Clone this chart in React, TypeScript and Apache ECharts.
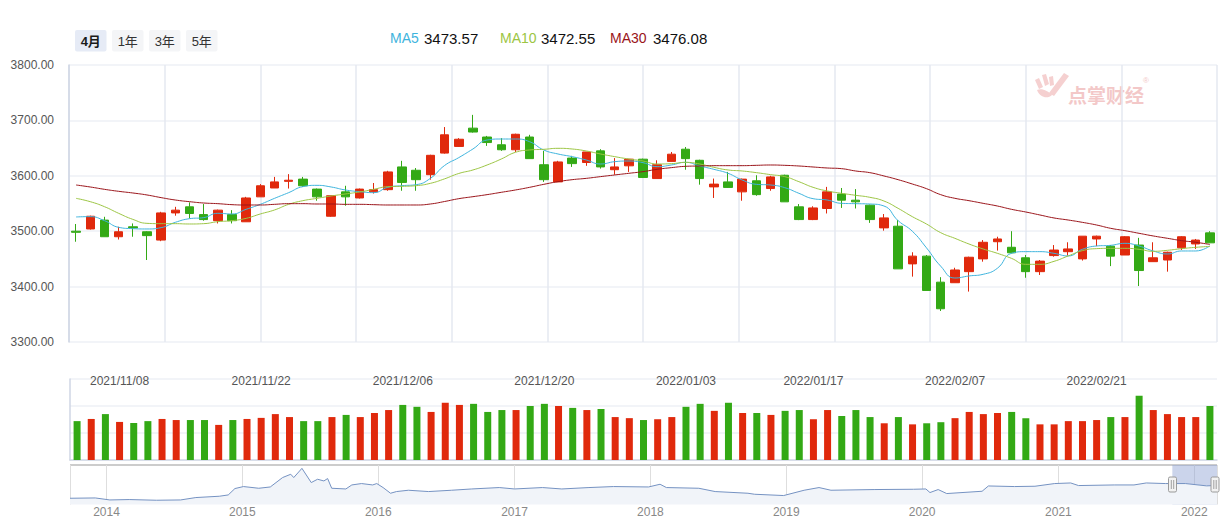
import React, { useEffect, useRef } from 'react';
import * as echarts from 'echarts';

// ---------- data ----------
const tradeDates = [
  '2021/11/03','2021/11/04','2021/11/05',
  '2021/11/08','2021/11/09','2021/11/10','2021/11/11','2021/11/12',
  '2021/11/15','2021/11/16','2021/11/17','2021/11/18','2021/11/19',
  '2021/11/22','2021/11/23','2021/11/24','2021/11/25','2021/11/26',
  '2021/11/29','2021/11/30','2021/12/01','2021/12/02','2021/12/03',
  '2021/12/06','2021/12/07','2021/12/08','2021/12/09','2021/12/10',
  '2021/12/13','2021/12/14','2021/12/15','2021/12/16','2021/12/17',
  '2021/12/20','2021/12/21','2021/12/22','2021/12/23','2021/12/24',
  '2021/12/27','2021/12/28','2021/12/29','2021/12/30','2021/12/31',
  '2022/01/04','2022/01/05','2022/01/06','2022/01/07',
  '2022/01/10','2022/01/11','2022/01/12','2022/01/13','2022/01/14',
  '2022/01/17','2022/01/18','2022/01/19','2022/01/20','2022/01/21',
  '2022/01/24','2022/01/25','2022/01/26','2022/01/27','2022/01/28',
  '2022/02/07','2022/02/08','2022/02/09','2022/02/10','2022/02/11',
  '2022/02/14','2022/02/15','2022/02/16','2022/02/17','2022/02/18',
  '2022/02/21','2022/02/22','2022/02/23','2022/02/24','2022/02/25',
  '2022/02/28','2022/03/01','2022/03/02','2022/03/03',
];

const openPrices = [
  3500,3504,3520,3490,3508,3499,3484,3533,3544,3530,
  3519,3530,3517,3562,3578,3590,3594,3576,3527,3571,
  3560,3571,3575,3616,3610,3602,3641,3653,3686,3670,
  3656,3647,3670,3620,3589,3632,3624,3645,3611,3618,
  3630,3595,3626,3648,3628,3580,3589,3571,3591,3577,
  3601,3544,3521,3541,3567,3556,3547,3506,3509,3441,
  3455,3408,3407,3427,3450,3481,3471,3452,3427,3456,
  3463,3450,3486,3473,3457,3475,3445,3448,3470,3477,3497,
];
const closePrices = [
  3498,3527,3490,3499,3506,3492,3533,3538,3532,3521,
  3538,3519,3560,3582,3589,3592,3582,3562,3564,3562,
  3576,3575,3607,3588,3593,3637,3674,3666,3679,3660,
  3647,3675,3631,3593,3625,3622,3643,3616,3616,3630,
  3597,3620,3639,3631,3595,3585,3579,3594,3566,3598,
  3553,3521,3542,3571,3556,3553,3521,3524,3432,3455,
  3393,3360,3430,3453,3480,3486,3461,3427,3446,3466,
  3468,3491,3491,3455,3490,3429,3452,3462,3490,3484,3479,
];
const lowPrices = [
  3481,3503,3490,3485,3490,3448,3482,3528,3523,3519,
  3514,3514,3517,3562,3578,3577,3580,3555,3526,3546,
  3559,3568,3573,3573,3573,3593,3640,3652,3678,3654,
  3645,3643,3631,3589,3589,3616,3618,3613,3602,3607,
  3596,3595,3626,3611,3584,3560,3578,3555,3564,3573,
  3553,3520,3520,3532,3542,3541,3515,3501,3432,3418,
  3393,3356,3407,3391,3445,3465,3460,3416,3421,3454,
  3456,3447,3473,3437,3457,3401,3445,3427,3466,3468,3479,
];
const highPrices = [
  3513,3528,3526,3508,3514,3500,3535,3544,3552,3549,
  3539,3538,3562,3585,3598,3603,3598,3577,3564,3582,
  3577,3587,3609,3627,3614,3638,3688,3668,3710,3672,
  3668,3676,3674,3645,3627,3636,3643,3648,3632,3630,
  3631,3628,3643,3652,3629,3595,3607,3595,3601,3600,
  3602,3549,3545,3580,3578,3576,3548,3531,3520,3462,
  3457,3417,3434,3454,3484,3490,3500,3457,3448,3475,
  3480,3491,3492,3475,3491,3488,3480,3463,3491,3486,3500,
];

const ma5Values = [
  3525.7,3526.3,3519.1,3507.0,3504.6,3504.0,3506.4,3516.0,3522.6,3524.5,
  3532.3,3531.1,3539.5,3548.5,3559.3,3569.6,3580.4,3582.8,3579.8,3574.4,
  3571.4,3569.6,3579.2,3582.2,3584.0,3595.4,3618.6,3632.8,3648.4,3664.6,
  3666.4,3666.4,3661.6,3646.6,3639.4,3634.6,3628.5,3621.3,3625.5,3626.7,
  3623.7,3616.5,3619.5,3624.3,3617.7,3611.7,3604.5,3592.4,3584.6,3583.4,
  3578.6,3568.4,3558.7,3556.3,3550.3,3549.7,3549.1,3545.5,3519.0,3500.0,
  3470.0,3437.0,3415.5,3419.2,3422.2,3433.0,3460.1,3463.1,3463.1,3460.1,
  3455.3,3467.3,3473.3,3474.5,3478.1,3473.3,3464.3,3458.9,3464.3,3464.3,3473.57,
];
const ma10Values = [
  3559.3,3553.3,3544.3,3532.3,3521.4,3514.2,3513.6,3513.6,3513.0,3513.6,
  3517.2,3519.0,3523.2,3531.1,3538.3,3548.5,3555.1,3559.3,3563.6,3567.2,
  3570.8,3575.6,3580.4,3581.0,3582.2,3586.4,3594.5,3604.2,3610.5,3619.5,
  3630.3,3642.4,3646.6,3647.8,3649.6,3648.4,3644.8,3639.4,3634.6,3630.3,
  3626.7,3621.3,3621.9,3624.3,3621.3,3615.3,3610.5,3608.7,3605.7,3602.1,
  3598.5,3589.4,3579.2,3572.6,3568.4,3564.8,3561.2,3554.5,3541.3,3526.3,
  3513.0,3497.4,3487.2,3476.9,3467.9,3460.1,3451.0,3440.2,3440.2,3445.6,
  3455.3,3464.9,3468.5,3469.1,3469.1,3467.3,3463.7,3465.5,3468.5,3470.9,3472.55,
];
const ma30Values = [
  3583.4,3579.8,3575.6,3572.0,3569.0,3565.4,3560.6,3556.3,3553.3,3550.9,
  3549.7,3547.9,3547.3,3547.3,3548.5,3549.7,3549.7,3549.1,3549.1,3548.5,
  3548.5,3547.9,3547.3,3547.3,3547.3,3549.1,3553.6,3558.7,3562.3,3566.0,
  3570.2,3574.4,3579.2,3584.6,3589.4,3593.0,3595.4,3598.5,3601.5,3604.5,
  3607.5,3611.7,3614.7,3617.1,3617.7,3618.3,3618.3,3618.3,3618.9,3619.5,
  3618.9,3617.7,3615.9,3614.1,3612.9,3608.7,3605.7,3599.7,3593.0,3585.2,
  3576.8,3566.0,3559.4,3555.1,3550.3,3545.5,3539.5,3534.7,3529.3,3523.9,
  3520.2,3516.0,3511.2,3505.2,3501.0,3496.2,3491.4,3487.2,3483.0,3480.0,3476.08,
];

const volumes = [
  144,152,170,141,137,144,152,148,148,148,
  130,148,152,156,170,159,144,144,159,167,
  159,174,185,204,197,178,212,204,208,178,
  185,185,200,208,200,193,185,189,159,155,
  148,151,159,197,208,182,212,174,174,167,
  182,185,151,185,163,185,159,136,159,132,
  136,140,155,178,170,174,178,155,132,132,
  144,144,148,159,159,238,185,170,159,159,200,
];

const volumeTickDates = ['2021/11/08','2021/11/22','2021/12/06','2021/12/20','2022/01/04','2022/01/17','2022/02/07','2022/02/21'];
const volumeTickLabels = ['2021/11/08','2021/11/22','2021/12/06','2021/12/20','2022/01/03','2022/01/17','2022/02/07','2022/02/21'];

const priceTicks = { min: 3300, max: 3800, step: 100 };
const volumeTicks = { min: 0, max: 300, step: 100 };

const maNames = ['MA5', 'MA10', 'MA30'];
const maLegendValues = ['3473.57', '3472.55', '3476.08'];
const rangeButtons = ['4月', '1年', '3年', '5年'];

const overviewDates = [
  '2013-09-25','2013-12-02','2014-01-10','2014-03-03','2014-05-15','2014-07-19','2014-08-29','2014-10-31',
  '2014-11-24','2014-12-12','2015-01-04','2015-02-14','2015-03-17','2015-04-19','2015-05-11','2015-05-19',
  '2015-06-10','2015-07-05','2015-07-22','2015-08-08','2015-08-18','2015-08-29','2015-10-06','2015-10-22',
  '2015-11-17','2015-12-17','2015-12-28','2016-01-14','2016-02-03','2016-02-19','2016-03-22','2016-05-15',
  '2016-07-16','2016-09-08','2016-11-21','2017-01-01','2017-03-17','2017-05-08','2017-07-20','2017-09-24',
  '2017-12-27','2018-01-27','2018-02-13','2018-05-11','2018-06-24','2018-09-20','2018-10-08','2018-12-25',
  '2019-02-18','2019-03-30','2019-05-01','2019-08-25','2019-12-09','2020-01-11','2020-01-22','2020-02-13',
  '2020-03-07','2020-06-10','2020-06-27','2020-09-05','2020-10-30','2020-12-22','2021-02-03','2021-02-24',
  '2021-05-31','2021-07-23','2021-08-25','2021-10-16','2021-12-08','2022-02-03','2022-03-03',
];
const overviewValues = [
  2217,2247,2049,2089,2020,2049,2286,2415,
  2543,3175,3372,3204,3332,4260,4586,4260,
  5170,3767,4092,3925,4161,3204,3135,3530,
  3668,3530,3668,3273,2711,2878,3007,2878,
  3007,3135,3273,3135,3273,3135,3273,3372,
  3332,3599,3273,3204,2878,2711,2612,2484,
  3007,3273,3007,3076,3105,3135,2780,3076,
  2681,2908,3431,3372,3402,3668,3727,3471,
  3530,3530,3727,3668,3668,3440,3480,
];
const overviewRange = { start: '2013-09-25', end: '2022-03-03' };
const zoomWindow = { start: '2021-11-03', end: '2022-03-03' };

// ---------- styles ----------
const FONT = '"Liberation Sans", Arial, "Noto Sans CJK SC", sans-serif';
const UP = '#e0290c';
const DOWN = '#33a915';
const MA_COLORS = ['#3fb4dd', '#9cc544', '#9a141a'];

const LOGO_D =
  'M1 8 L5 6 L9 15 L5 17 Z M8 3 L12 2 L15 12 L11 14 Z M15 5 L19 4 L20 13 L16 14 Z ' +
  'M30 1 L35 4 L20 24 L15 21 Z M3 18 C8 16 14 19 18 23 C14 27 6 26 3 18 Z';
let logoRegistered = false;
function ensureLogo() {
  if (logoRegistered) return;
  echarts.graphic.registerShape('dzLogo', echarts.graphic.extendPath(LOGO_D, {}));
  logoRegistered = true;
}

function buildOption() {
  const candleData = openPrices.map((o, i) => [o, closePrices[i], lowPrices[i], highPrices[i]]);
  const volumeData = volumes.map((v, i) => ({
    value: v,
    itemStyle: { color: closePrices[i] >= openPrices[i] ? UP : DOWN },
  }));
  const overviewData = overviewDates.map((d, i) => [d, overviewValues[i]]);

  const graphic: any[] = [];
  // range buttons
  rangeButtons.forEach((b, i) => {
    const x = 75 + i * 37;
    graphic.push({
      type: 'rect', x, y: 30, shape: { width: 31.5, height: 21.5, r: 2 },
      style: { fill: i === 0 ? '#e6ebf6' : '#f4f5f7' }, silent: true,
    });
    graphic.push({
      type: 'text', x: x + 15.75, y: 41,
      style: {
        text: b, fill: i === 0 ? '#1a1a1a' : '#333', align: 'center', verticalAlign: 'middle',
        font: (i === 0 ? 'bold ' : '') + '13px ' + FONT,
      }, silent: true,
    });
  });
  // MA legend
  const legendX = [[390, 424], [500, 541], [610, 653]];
  maNames.forEach((n, i) => {
    graphic.push({
      type: 'text', x: legendX[i][0], y: 38,
      style: { text: n, fill: MA_COLORS[i], font: '14px ' + FONT, verticalAlign: 'middle', align: 'left' }, silent: true,
    });
    graphic.push({
      type: 'text', x: legendX[i][1], y: 38,
      style: { text: maLegendValues[i], fill: '#111', font: '15px ' + FONT, verticalAlign: 'middle', align: 'left' }, silent: true,
    });
  });
  // watermark
  graphic.push({ type: 'dzLogo', x: 1034, y: 72, style: { fill: '#f5d0d0' }, silent: true });
  graphic.push({
    type: 'text', x: 1068, y: 94,
    style: { text: '点掌财经', fill: '#f3c8c8', font: 'bold 19px "Noto Sans CJK SC", sans-serif', verticalAlign: 'middle' }, silent: true,
  });
  graphic.push({
    type: 'text', x: 1143, y: 80,
    style: { text: '®', fill: '#f3c8c8', font: '8px ' + FONT, verticalAlign: 'middle' }, silent: true,
  });
  // slider top border
  graphic.push({
    type: 'line', shape: { x1: 70, y1: 465, x2: 1217, y2: 465 },
    style: { stroke: '#cccccc', lineWidth: 2 }, silent: true,
  });
  // slider handles
  [1172.5, 1215].forEach((cx) => {
    graphic.push({
      type: 'rect', x: cx - 4, y: 477, shape: { width: 8, height: 15, r: 1.5 },
      style: { fill: '#f2f2f2', stroke: '#9a9a9a', lineWidth: 1 }, silent: true, z: 100,
    });
    graphic.push({ type: 'line', shape: { x1: cx - 1.2, y1: 480, x2: cx - 1.2, y2: 489 }, style: { stroke: '#8a8a8a', lineWidth: 0.8 }, silent: true, z: 101 });
    graphic.push({ type: 'line', shape: { x1: cx + 1.2, y1: 480, x2: cx + 1.2, y2: 489 }, style: { stroke: '#8a8a8a', lineWidth: 0.8 }, silent: true, z: 101 });
  });

  const vLineColor = '#e4e9f1';
  const hLineColor = '#eef1f6';
  const axisLineColor = '#cfd6e4';
  const YEAR = 365 * 24 * 3600 * 1000;

  return {
    animation: false,
    textStyle: { fontFamily: FONT },
    grid: [
      { left: 69, top: 65, width: 1148, height: 277 },
      { left: 70, top: 379, width: 1147, height: 81 },
      { left: 70, top: 465, width: 1147, height: 39.5 },
    ],
    xAxis: [
      {
        type: 'category', gridIndex: 0, data: tradeDates, boundaryGap: true,
        axisLine: { show: false }, axisTick: { show: false }, axisLabel: { show: false }, splitLine: { show: false },
      },
      {
        type: 'value', gridIndex: 0, min: 0, max: 12, interval: 1, position: 'top',
        axisLine: { show: false }, axisTick: { show: false }, axisLabel: { show: false },
        splitLine: { show: true, lineStyle: { color: vLineColor, width: 1.5 } },
      },
      {
        type: 'category', gridIndex: 1, data: tradeDates, position: 'top', boundaryGap: true,
        axisLine: { show: false }, axisTick: { show: false }, splitLine: { show: false },
        axisLabel: {
          color: '#555', fontSize: 12, margin: -8, fontFamily: FONT,
          interval: (_i: number, v: string) => volumeTickDates.includes(v),
          formatter: (v: string) => {
            const k = volumeTickDates.indexOf(v);
            return k >= 0 ? volumeTickLabels[k] : '';
          },
        },
      },
      {
        type: 'category', gridIndex: 1, data: tradeDates, position: 'bottom', boundaryGap: true,
        axisLine: { show: true, lineStyle: { color: axisLineColor, width: 1.5 } },
        axisTick: { show: false }, axisLabel: { show: false }, splitLine: { show: false },
      },
      {
        type: 'time', gridIndex: 2, min: overviewRange.start, max: overviewRange.end,
        splitNumber: 9, minInterval: YEAR, maxInterval: YEAR + 24 * 3600 * 1000,
        axisLine: { show: false }, axisTick: { show: false },
        splitLine: { show: true, lineStyle: { color: '#dedede', width: 1 } },
        axisLabel: {
          color: '#888', fontSize: 12, margin: 1, fontFamily: FONT,
          showMinLabel: false, showMaxLabel: false,
          formatter: (val: number) => {
            const d = new Date(val);
            return d.getMonth() === 0 && d.getDate() === 1 ? String(d.getFullYear()) : '';
          },
        },
      },
    ],
    yAxis: [
      {
        type: 'value', gridIndex: 0, min: priceTicks.min, max: priceTicks.max, interval: priceTicks.step,
        axisLine: { show: true, lineStyle: { color: axisLineColor, width: 1.5 } }, axisTick: { show: false },
        axisLabel: { color: '#555', fontSize: 12, margin: 15, formatter: (v: number) => v.toFixed(2), fontFamily: FONT },
        splitLine: { show: true, lineStyle: { color: hLineColor, width: 1.5 } },
      },
      {
        type: 'value', gridIndex: 1, min: volumeTicks.min, max: volumeTicks.max, interval: volumeTicks.step,
        axisLine: { show: true, lineStyle: { color: axisLineColor, width: 1.5 } }, axisTick: { show: false },
        axisLabel: { show: false },
        splitLine: { show: true, lineStyle: { color: hLineColor, width: 1.5 } },
      },
      { type: 'value', gridIndex: 2, min: 1600, max: 5500, show: false, splitLine: { show: false } },
    ],
    series: [
      {
        name: 'K', type: 'candlestick', xAxisIndex: 0, yAxisIndex: 0, data: candleData, barWidth: 9,
        itemStyle: { color: UP, color0: DOWN, borderColor: UP, borderColor0: DOWN, borderWidth: 1 },
      },
      ...maNames.map((n, i) => ({
        name: n, type: 'line', xAxisIndex: 0, yAxisIndex: 0,
        data: [ma5Values, ma10Values, ma30Values][i], smooth: true, showSymbol: false,
        lineStyle: { color: MA_COLORS[i], width: 1 }, itemStyle: { color: MA_COLORS[i] }, z: 3,
      })),
      {
        name: 'VOL', type: 'bar', xAxisIndex: 2, yAxisIndex: 1, data: volumeData, barWidth: 7,
      },
      {
        name: 'overview', type: 'line', xAxisIndex: 4, yAxisIndex: 2, data: overviewData,
        showSymbol: false, smooth: false,
        lineStyle: { color: '#7592c2', width: 1 },
        areaStyle: { color: '#f1f4f9', opacity: 1 },
        markArea: {
          silent: true,
          itemStyle: { color: 'rgba(140,160,210,0.45)' },
          data: [[{ xAxis: zoomWindow.start }, { xAxis: zoomWindow.end }]],
        },
      },
    ],
    graphic,
  };
}

export default function App() {
  const ref = useRef<HTMLDivElement>(null);
  useEffect(() => {
    if (!ref.current) return;
    ensureLogo();
    const chart = echarts.init(ref.current, undefined, { renderer: 'svg' });
    chart.setOption(buildOption() as any);
    return () => chart.dispose();
  }, []);
  return (
    <div
      ref={ref}
      style={{ position: 'fixed', left: 0, top: 0, width: 1228, height: 520, background: '#fff' }}
    />
  );
}
